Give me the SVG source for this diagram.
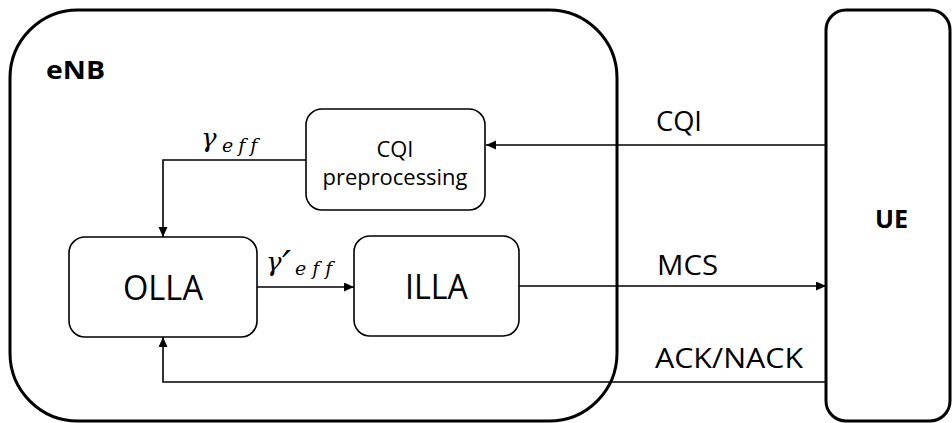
<svg xmlns="http://www.w3.org/2000/svg" width="952" height="423" viewBox="0 0 952 423">
  <style>
    .frame { fill: none; stroke: #000; stroke-width: 3; }
    .box { fill: #fff; stroke: #000; stroke-width: 1.6; }
    .wire { fill: none; stroke: #000; stroke-width: 1.6; }
    .txt { font-family: "Open Sans", "Noto Sans", "Liberation Sans", sans-serif; fill: #000; }
    .bold { font-weight: bold; }
    .math { font-family: "DejaVu Serif", "Liberation Serif", serif; font-style: italic; fill: #000; font-variant-ligatures: none; font-feature-settings: "liga" 0; }
  </style>
  <defs>
    <marker id="arrow" markerUnits="userSpaceOnUse" markerWidth="11" markerHeight="10" refX="10" refY="4.5" orient="auto">
      <path d="M0,0 L10,4.5 L0,9 z" fill="#000"/>
    </marker>
  </defs>

  <rect width="952" height="423" fill="#fff"/>

  <!-- base station container -->
  <g id="enb">
    <rect class="frame" x="10" y="10" width="607" height="411" rx="68" ry="68"/>
    <text class="txt bold" x="46" y="79" font-size="25" textLength="59" lengthAdjust="spacingAndGlyphs">eNB</text>
  </g>

  <!-- user equipment -->
  <g id="ue">
    <rect class="frame" x="826" y="10" width="124" height="411" rx="20" ry="20"/>
    <text class="txt bold" x="875" y="228" font-size="25" textLength="33" lengthAdjust="spacingAndGlyphs">UE</text>
  </g>

  <!-- connectors -->
  <g id="connectors">
    <path class="wire" d="M826,145 H486" marker-end="url(#arrow)"/>
    <path class="wire" d="M306,160 H163 V237" marker-end="url(#arrow)"/>
    <path class="wire" d="M257,287 H354" marker-end="url(#arrow)"/>
    <path class="wire" d="M519,286 H826" marker-end="url(#arrow)"/>
    <path class="wire" d="M826,382 H163 V337" marker-end="url(#arrow)"/>
  </g>

  <g id="cqi-preprocessing">
    <rect class="box" x="306" y="109" width="179" height="101" rx="16" ry="16"/>
    <text class="txt" x="395" y="157" font-size="21" text-anchor="middle" textLength="37" lengthAdjust="spacingAndGlyphs">CQI</text>
    <text class="txt" x="395" y="185" font-size="22" text-anchor="middle" textLength="145" lengthAdjust="spacingAndGlyphs">preprocessing</text>
  </g>

  <g id="olla">
    <rect class="box" x="69" y="237" width="188" height="100" rx="16" ry="16"/>
    <text class="txt" x="123" y="300" font-size="35" textLength="80" lengthAdjust="spacingAndGlyphs">OLLA</text>
  </g>

  <g id="illa">
    <rect class="box" x="354" y="236" width="165" height="100" rx="16" ry="16"/>
    <text class="txt" x="405" y="299" font-size="35" textLength="63" lengthAdjust="spacingAndGlyphs">ILLA</text>
  </g>

  <!-- connector labels -->
  <g id="labels">
    <text class="txt" x="656" y="131" font-size="28" textLength="46" lengthAdjust="spacingAndGlyphs">CQI</text>
    <text class="txt" x="657" y="275" font-size="28" textLength="61" lengthAdjust="spacingAndGlyphs">MCS</text>
    <text class="txt" x="655" y="368" font-size="28" textLength="148" lengthAdjust="spacingAndGlyphs">ACK/NACK</text>
    <text class="math" x="201" y="147" font-size="26">γ</text>
    <text class="math" x="222" y="152" font-size="19" letter-spacing="5">eff</text>
    <text class="math" x="266" y="271" font-size="26">γ</text>
    <text class="math" x="282" y="279" font-size="40">′</text>
    <text class="math" x="295" y="275" font-size="19" letter-spacing="6">eff</text>
  </g>
</svg>
